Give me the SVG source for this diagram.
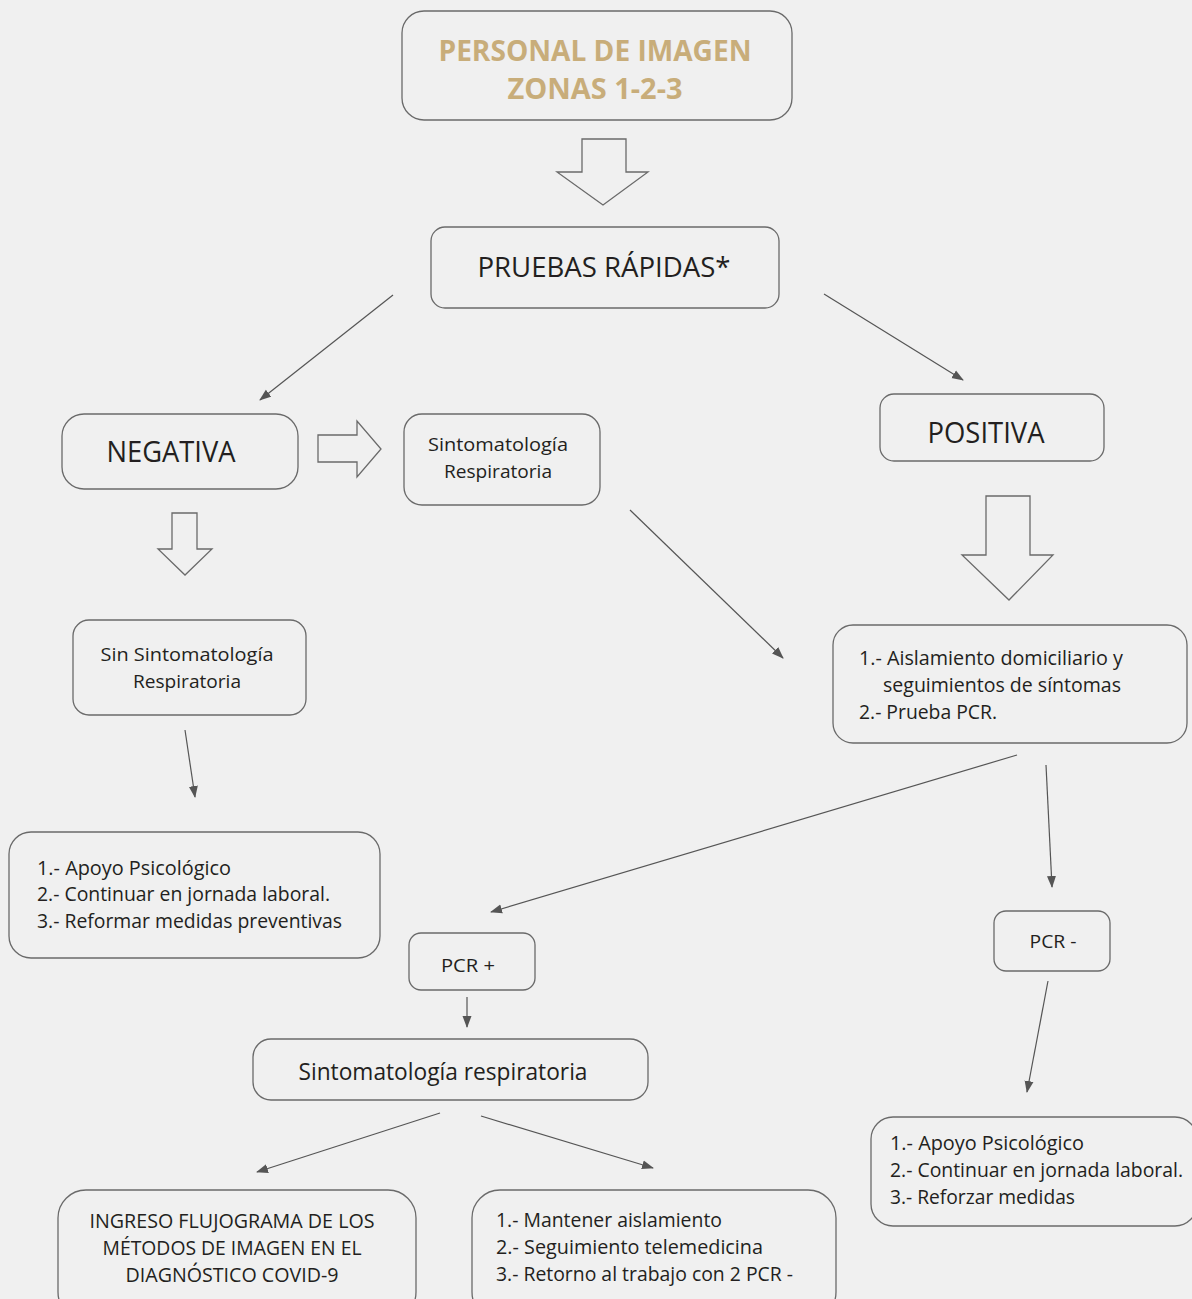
<svg xmlns="http://www.w3.org/2000/svg" width="1192" height="1299" viewBox="0 0 1192 1299">
  <style>
    .box { fill: none; stroke: #6a6a6a; stroke-width: 1.3; }
    .blk { fill: none; stroke: #6a6a6a; stroke-width: 1.3; stroke-linejoin: miter; }
    .t { font-family: "Open Sans", "Noto Sans", sans-serif; fill: #231f20; }
    .c { text-anchor: middle; }
    .gold { fill: #c8ad7a; font-weight: bold; }
    .conn line { stroke: #555; stroke-width: 1.2; marker-end: url(#ah); }
  </style>
  <defs>
    <marker id="ah" viewBox="0 0 12 10" refX="11" refY="5" markerWidth="12" markerHeight="10" markerUnits="userSpaceOnUse" orient="auto">
      <path d="M0,0.5 L12,5 L0,9.5 Z" fill="#555"/>
    </marker>
  </defs>
  <rect width="1192" height="1299" fill="#f0f0f0"/>

  <g id="personal">
    <rect class="box" x="402" y="11" width="390" height="109" rx="22"/>
    <text class="t c gold" x="595" y="61" font-size="29" textLength="313" lengthAdjust="spacingAndGlyphs">PERSONAL DE IMAGEN</text>
    <text class="t c gold" x="595" y="99" font-size="29" textLength="175" lengthAdjust="spacingAndGlyphs">ZONAS 1-2-3</text>
  </g>

  <g id="flecha-1">
    <path class="blk" d="M582,139 H626 V172 H648 L603,205 L557,172 H582 Z"/>
  </g>

  <g id="pruebas">
    <rect class="box" x="431" y="227" width="348" height="81" rx="14"/>
    <text class="t c" x="604" y="277" font-size="27" textLength="253" lengthAdjust="spacingAndGlyphs">PRUEBAS RÁPIDAS*</text>
  </g>

  <g id="negativa">
    <rect class="box" x="62" y="414" width="236" height="75" rx="22"/>
    <text class="t c" x="171" y="462" font-size="29" textLength="129" lengthAdjust="spacingAndGlyphs">NEGATIVA</text>
  </g>

  <g id="flecha-2">
    <path class="blk" d="M318,435 H357 V421 L381,449 L357,477 V462 H318 Z"/>
  </g>

  <g id="sinto-resp">
    <rect class="box" x="404" y="414" width="196" height="91" rx="18"/>
    <text class="t c" x="498" y="451" font-size="19" textLength="140" lengthAdjust="spacingAndGlyphs">Sintomatología</text>
    <text class="t c" x="498" y="478" font-size="19" textLength="108" lengthAdjust="spacingAndGlyphs">Respiratoria</text>
  </g>

  <g id="flecha-3">
    <path class="blk" d="M172,513 H197 V549 H212 L185,575 L158,549 H172 Z"/>
  </g>

  <g id="sin-sinto">
    <rect class="box" x="73" y="620" width="233" height="95" rx="16"/>
    <text class="t c" x="187" y="661" font-size="19" textLength="173" lengthAdjust="spacingAndGlyphs">Sin Sintomatología</text>
    <text class="t c" x="187" y="688" font-size="19" textLength="108" lengthAdjust="spacingAndGlyphs">Respiratoria</text>
  </g>

  <g id="apoyo-neg">
    <rect class="box" x="9" y="832" width="371" height="126" rx="22"/>
    <text class="t" x="37" y="875" font-size="20" textLength="194" lengthAdjust="spacingAndGlyphs">1.- Apoyo Psicológico</text>
    <text class="t" x="37" y="901" font-size="20" textLength="293" lengthAdjust="spacingAndGlyphs">2.- Continuar en jornada laboral.</text>
    <text class="t" x="37" y="928" font-size="20" textLength="305" lengthAdjust="spacingAndGlyphs">3.- Reformar medidas preventivas</text>
  </g>

  <g id="positiva">
    <rect class="box" x="880" y="394" width="224" height="67" rx="14"/>
    <text class="t c" x="986" y="443" font-size="29" textLength="117" lengthAdjust="spacingAndGlyphs">POSITIVA</text>
  </g>

  <g id="flecha-4">
    <path class="blk" d="M986,496 H1030 V555 H1053 L1009,600 L962,555 H986 Z"/>
  </g>

  <g id="aislamiento">
    <rect class="box" x="833" y="625" width="354" height="118" rx="20"/>
    <text class="t" x="859" y="665" font-size="20" textLength="264" lengthAdjust="spacingAndGlyphs">1.- Aislamiento domiciliario y</text>
    <text class="t" x="883" y="692" font-size="20" textLength="238" lengthAdjust="spacingAndGlyphs">seguimientos de síntomas</text>
    <text class="t" x="859" y="719" font-size="20" textLength="138" lengthAdjust="spacingAndGlyphs">2.- Prueba PCR.</text>
  </g>

  <g id="pcr-pos">
    <rect class="box" x="409" y="933" width="126" height="57" rx="12"/>
    <text class="t c" x="468" y="972" font-size="19" textLength="54" lengthAdjust="spacingAndGlyphs">PCR +</text>
  </g>

  <g id="sinto-resp-2">
    <rect class="box" x="253" y="1039" width="395" height="61" rx="18"/>
    <text class="t c" x="443" y="1080" font-size="23" textLength="289" lengthAdjust="spacingAndGlyphs">Sintomatología respiratoria</text>
  </g>

  <g id="pcr-neg">
    <rect class="box" x="994" y="911" width="116" height="60" rx="12"/>
    <text class="t c" x="1053" y="948" font-size="19" textLength="47" lengthAdjust="spacingAndGlyphs">PCR -</text>
  </g>

  <g id="apoyo-pos">
    <rect class="box" x="871" y="1117" width="326" height="109" rx="22"/>
    <text class="t" x="890" y="1150" font-size="20" textLength="194" lengthAdjust="spacingAndGlyphs">1.- Apoyo Psicológico</text>
    <text class="t" x="890" y="1177" font-size="20" textLength="293" lengthAdjust="spacingAndGlyphs">2.- Continuar en jornada laboral.</text>
    <text class="t" x="890" y="1204" font-size="20" textLength="185" lengthAdjust="spacingAndGlyphs">3.- Reforzar medidas</text>
  </g>

  <g id="ingreso">
    <rect class="box" x="58" y="1190" width="358" height="130" rx="28"/>
    <text class="t c" x="232" y="1228" font-size="20" textLength="285" lengthAdjust="spacingAndGlyphs">INGRESO FLUJOGRAMA DE LOS</text>
    <text class="t c" x="232" y="1255" font-size="20" textLength="259" lengthAdjust="spacingAndGlyphs">MÉTODOS DE IMAGEN EN EL</text>
    <text class="t c" x="232" y="1282" font-size="20" textLength="213" lengthAdjust="spacingAndGlyphs">DIAGNÓSTICO COVID-9</text>
  </g>

  <g id="mantener">
    <rect class="box" x="472" y="1190" width="364" height="130" rx="28"/>
    <text class="t" x="496" y="1227" font-size="20" textLength="226" lengthAdjust="spacingAndGlyphs">1.- Mantener aislamiento</text>
    <text class="t" x="496" y="1254" font-size="20" textLength="267" lengthAdjust="spacingAndGlyphs">2.- Seguimiento telemedicina</text>
    <text class="t" x="496" y="1281" font-size="20" textLength="297" lengthAdjust="spacingAndGlyphs">3.- Retorno al trabajo con 2 PCR -</text>
  </g>

  <!-- connectors -->
  <g class="conn" id="conectores">
    <line x1="393" y1="295" x2="260" y2="400"/>
    <line x1="824" y1="294" x2="963" y2="380"/>
    <line x1="185" y1="730" x2="195" y2="797"/>
    <line x1="630" y1="510" x2="783" y2="658"/>
    <line x1="1017" y1="755" x2="491" y2="912"/>
    <line x1="1046" y1="765" x2="1052" y2="887"/>
    <line x1="467" y1="997" x2="467" y2="1027"/>
    <line x1="1048" y1="981" x2="1027" y2="1092"/>
    <line x1="440" y1="1113" x2="257" y2="1172"/>
    <line x1="481" y1="1116" x2="653" y2="1168"/>
  </g>
</svg>
